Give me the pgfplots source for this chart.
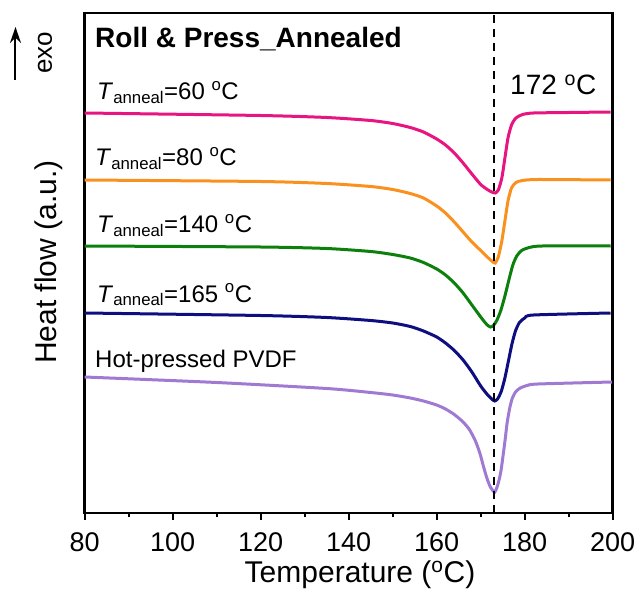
\documentclass[border=0pt]{standalone}
\usepackage{pgfplots}
\pgfplotsset{compat=1.18}
\usetikzlibrary{arrows.meta}
\usepackage{fontspec}
\setmainfont{Liberation Sans}
\definecolor{cpink}{RGB}{232,20,128}
\definecolor{corange}{RGB}{250,145,30}
\definecolor{cgreen}{RGB}{12,128,12}
\definecolor{cnavy}{RGB}{14,14,128}
\definecolor{cpurple}{RGB}{160,122,210}

\begin{document}
\begin{tikzpicture}
% frame in pixel units of the reference, origin at top left
\begin{scope}[shift={(-84.7pt,513pt)}, x=1pt, y=-1pt]
  \useasboundingbox (0,0) rectangle (639,592);
\end{scope}

\begin{axis}[
  at={(0,0)}, anchor=south west,
  width=528pt, height=500pt, scale only axis,
  xmin=80, xmax=200, ymin=0, ymax=500,
  xtick={80,100,...,200}, minor x tick num=1,
  ytick=\empty,
  xtick pos=left, tick align=outside,
  major tick length=7pt, minor tick length=4pt,
  tick style={black, line width=2pt},
  axis line style={line width=2.5pt},
  x tick label style={font=\fontsize{27}{27}\selectfont, yshift=-9pt},
  /pgf/number format/assume math mode=true,
]
% 60 C
\addplot[cpink, line width=3pt, smooth, tension=0.4] coordinates {
(80,400) (120,397.5) (135,395.5) (145,392.5) (150,389.5) (154,385.5) (157,381) (160,374)
(162,368) (164,360) (166,350) (168,339) (170,328.5) (171.5,323.5) (172.5,321) (173.3,320)
(174,323) (174.8,335) (175.5,355) (176.2,375) (177,388) (178,395) (179.5,398.5)
(182,400) (190,400.5) (199.5,401)};
% 80 C
\addplot[corange, line width=3pt, smooth, tension=0.4] coordinates {
(80,333) (120,331.5) (135,329.5) (145,326.5) (150,323.5) (154,319.5) (157,315) (160,307)
(162,300) (164,291) (166,281) (168,271) (170,262.5) (171.5,256) (172.5,252) (173.3,250)
(174,256) (174.8,272) (175.5,292) (176.2,312) (177,325) (178,330.5) (179.5,332.5)
(183,333.5) (199.5,333)};
% 140 C
\addplot[cgreen, line width=3pt, smooth, tension=0.4] coordinates {
(80,267) (120,266) (135,264.5) (145,261.5) (150,258.5) (154,255) (157,250.5) (160,244)
(162,238) (164,230) (166,220) (168,208) (169.5,199) (170.7,192) (171.5,188) (172.2,186)
(172.9,187.5) (173.7,193) (174.6,203) (175.5,217) (176.4,233) (177.3,248) (178.2,257)
(179.3,262.5) (181,265.5) (184,267) (199.5,267)};
% 165 C
\addplot[cnavy, line width=3pt, smooth, tension=0.4] coordinates {
(80,200) (120,197.5) (135,195.5) (145,192.5) (150,190) (154,186.5) (157,182) (160,176)
(162,170) (164,162.5) (166,153) (168,141) (170,127) (171.5,118.5) (172.5,114) (173.2,112)
(173.9,114.5) (174.7,122) (175.5,135) (176.3,152) (177.1,169) (177.9,182) (178.8,190.5)
(180,195) (182,198) (199.5,200)};
% hot-pressed
\addplot[cpurple, line width=3pt, smooth, tension=0.4] coordinates {
(80,136) (110,130.5) (135,124.5) (145,120.5) (150,118) (154,115) (157,112) (160,108)
(162,104) (164,98.5) (166,91) (167.5,83) (168.8,72) (169.8,60) (170.6,47) (171.4,35)
(172.2,26) (173.2,21) (174,30) (174.6,42) (175.1,58) (175.6,75) (176,90) (176.6,105)
(177.2,115) (178,121.5) (179,125) (180.5,127.5) (183,129) (199.8,131)};
% melting point
\addplot[black, line width=1.8pt, dash pattern=on 8pt off 6pt] coordinates {(173,0) (173,500)};
\end{axis}

\begin{scope}[shift={(-84.7pt,513pt)}, x=1pt, y=-1pt]
  \node[anchor=base west, inner sep=0, font=\fontsize{28}{28}\selectfont\bfseries]
    at (95,48) {Roll \& Press\_Annealed};
  \node[anchor=base west, inner sep=0, font=\fontsize{28}{28}\selectfont]
    at (510,95) {172 \textsuperscript{o}C};
  \node[anchor=base west, inner sep=0, font=\fontsize{24}{24}\selectfont]
    at (97,100) {\textit{T}\textsubscript{anneal}=60 \textsuperscript{o}C};
  \node[anchor=base west, inner sep=0, font=\fontsize{24}{24}\selectfont]
    at (95,166) {\textit{T}\textsubscript{anneal}=80 \textsuperscript{o}C};
  \node[anchor=base west, inner sep=0, font=\fontsize{24}{24}\selectfont]
    at (97,233) {\textit{T}\textsubscript{anneal}=140 \textsuperscript{o}C};
  \node[anchor=base west, inner sep=0, font=\fontsize{24}{24}\selectfont]
    at (97,302) {\textit{T}\textsubscript{anneal}=165 \textsuperscript{o}C};
  \node[anchor=base west, inner sep=0, font=\fontsize{24}{24}\selectfont]
    at (95,367) {Hot-pressed PVDF};
  \node[anchor=base, inner sep=0, font=\fontsize{30}{30}\selectfont]
    at (360,582) {Temperature (\textsuperscript{o}C)};
  \node[anchor=base, inner sep=0, rotate=90, font=\fontsize{30}{30}\selectfont]
    at (57,262) {Heat flow (a.u.)};
  \node[anchor=base, inner sep=0, rotate=90, font=\fontsize{26}{26}\selectfont]
    at (52,53) {exo};
  \draw[-{Stealth[length=16pt,width=11pt]}, line width=2pt] (15.5,80) -- (15.5,27);
\end{scope}
\end{tikzpicture}
\end{document}
